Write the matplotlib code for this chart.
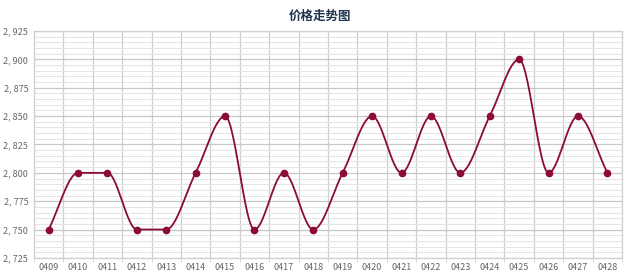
import numpy as np
import matplotlib.pyplot as plt
from matplotlib.ticker import MultipleLocator, FuncFormatter

plt.rcParams['font.family'] = ['Noto Sans CJK SC', 'DejaVu Sans']

dates = ['0409', '0410', '0411', '0412', '0413', '0414', '0415', '0416', '0417', '0418',
         '0419', '0420', '0421', '0422', '0423', '0424', '0425', '0426', '0427', '0428']
prices = [2750, 2800, 2800, 2750, 2750, 2800, 2850, 2750, 2800, 2750,
          2800, 2850, 2800, 2850, 2800, 2850, 2900, 2800, 2850, 2800]


def monotone_curve(x, y, n=30):
    # Fritsch-Carlson monotone cubic, like the smooth line in the chart
    x = np.asarray(x, float)
    y = np.asarray(y, float)
    h = np.diff(x)
    d = np.diff(y) / h
    m = np.zeros_like(y)
    m[0], m[-1] = d[0], d[-1]
    for i in range(1, len(y) - 1):
        if d[i - 1] * d[i] > 0:
            m[i] = 2 / (1 / d[i - 1] + 1 / d[i])
    xs, ys = [], []
    for i in range(len(h)):
        t = np.linspace(0, 1, n)
        h00 = 2 * t**3 - 3 * t**2 + 1
        h10 = t**3 - 2 * t**2 + t
        h01 = -2 * t**3 + 3 * t**2
        h11 = t**3 - t**2
        xs.append(x[i] + t * h[i])
        ys.append(h00 * y[i] + h10 * h[i] * m[i] + h01 * y[i + 1] + h11 * h[i] * m[i + 1])
    return np.concatenate(xs), np.concatenate(ys)


xpos = np.arange(len(dates))
cx, cy = monotone_curve(xpos, prices)

fig = plt.figure(figsize=(6.4, 2.8), dpi=100)
ax = fig.add_axes([0.053, 0.079, 0.919, 0.81])

color = '#8c0a3a'
ax.plot(cx, cy, color=color, linewidth=1.3, zorder=3)
ax.plot(xpos, prices, 'o', color=color, markersize=4.5, zorder=4)

ax.set_xlim(-0.5, len(dates) - 0.5)
ax.set_ylim(2725, 2925)
ax.yaxis.set_major_locator(MultipleLocator(25))
ax.yaxis.set_minor_locator(MultipleLocator(5))
ax.yaxis.set_major_formatter(FuncFormatter(lambda v, p: f'{int(v):,}'.replace(',', ', ')))
ax.set_xticks(xpos)
ax.set_xticklabels(dates)
ax.set_xticks(np.arange(-0.5, len(dates)), minor=True)

ax.grid(axis='y', which='major', color='#c8c8c8', linewidth=0.9)
ax.grid(axis='y', which='minor', color='#e4e4e4', linewidth=0.7)
ax.grid(axis='x', which='minor', color='#cfcfcf', linewidth=0.9)
ax.tick_params(axis='x', which='major', length=0, labelsize=6.5, colors='#666666', pad=4)
ax.tick_params(axis='x', which='minor', length=3, color='#cfcfcf')
ax.tick_params(axis='y', which='both', length=0, labelsize=6.5, colors='#666666', pad=4)
for s in ax.spines.values():
    s.set_color('#cfcfcf')
    s.set_linewidth(0.9)

fig.suptitle('价格走势图', x=0.5, y=0.965, fontsize=9, fontweight='bold', color='#1f3550')

fig.savefig('out.png', dpi=100)
